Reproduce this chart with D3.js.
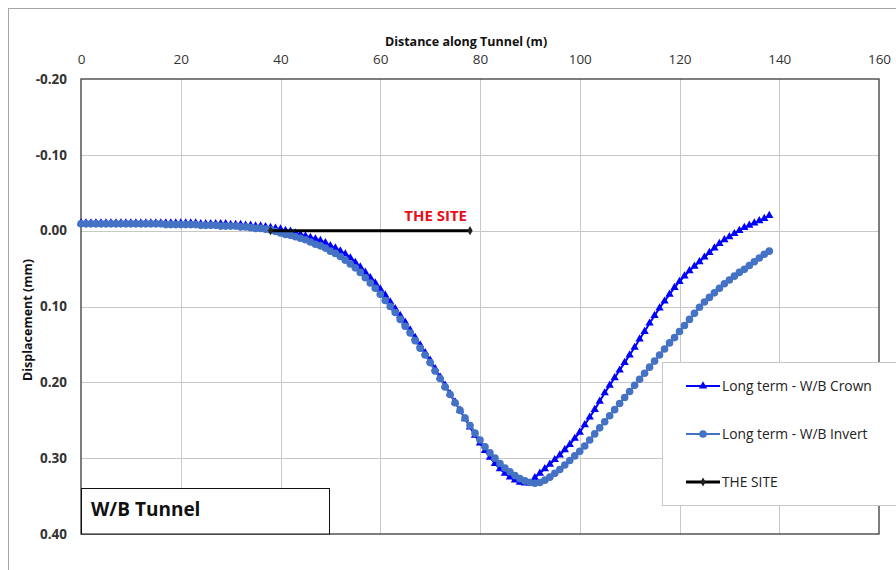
<!DOCTYPE html>
<html>
<head>
<meta charset="utf-8">
<script src="https://cdn.jsdelivr.net/npm/d3@7/dist/d3.min.js"></script>
<style>
  html, body { margin: 0; padding: 0; background: #fff; }
  svg { display: block; font-family: "Open Sans", Lato, "DejaVu Sans", sans-serif; }
</style>
</head>
<body>
<svg id="chart" width="896" height="570"></svg>
<script>
// Chainage along the tunnel (m)
const distance = [
  0, 1, 2, 3, 4, 5, 6, 7, 8, 9,
  10, 11, 12, 13, 14, 15, 16, 17, 18, 19,
  20, 21, 22, 23, 24, 25, 26, 27, 28, 29,
  30, 31, 32, 33, 34, 35, 36, 37, 38, 39,
  40, 41, 42, 43, 44, 45, 46, 47, 48, 49,
  50, 51, 52, 53, 54, 55, 56, 57, 58, 59,
  60, 61, 62, 63, 64, 65, 66, 67, 68, 69,
  70, 71, 72, 73, 74, 75, 76, 77, 78, 79,
  80, 81, 82, 83, 84, 85, 86, 87, 88, 89,
  90, 91, 92, 93, 94, 95, 96, 97, 98, 99,
  100, 101, 102, 103, 104, 105, 106, 107, 108, 109,
  110, 111, 112, 113, 114, 115, 116, 117, 118, 119,
  120, 121, 122, 123, 124, 125, 126, 127, 128, 129,
  130, 131, 132, 133, 134, 135, 136, 137, 138
];

// Long term displacement at the W/B crown (mm)
const crown = [
  -0.010, -0.010, -0.010, -0.010, -0.010, -0.010, -0.010, -0.010, -0.010, -0.010,
  -0.010, -0.010, -0.010, -0.010, -0.010, -0.010, -0.010, -0.010, -0.010, -0.010,
  -0.010, -0.010, -0.010, -0.010, -0.009, -0.009, -0.009, -0.009, -0.009, -0.009,
  -0.008, -0.008, -0.008, -0.007, -0.007, -0.006, -0.006, -0.005, -0.004, -0.003,
  -0.002, 0.000, 0.001, 0.003, 0.005, 0.007, 0.009, 0.011, 0.013, 0.016,
  0.020, 0.023, 0.027, 0.031, 0.036, 0.042, 0.048, 0.055, 0.062, 0.069,
  0.077, 0.085, 0.094, 0.103, 0.112, 0.121, 0.131, 0.141, 0.151, 0.161,
  0.171, 0.182, 0.193, 0.204, 0.215, 0.226, 0.237, 0.248, 0.259, 0.270,
  0.280, 0.290, 0.299, 0.307, 0.314, 0.320, 0.325, 0.329, 0.332, 0.333,
  0.333, 0.326, 0.320, 0.314, 0.308, 0.302, 0.296, 0.289, 0.282, 0.274,
  0.266, 0.256, 0.246, 0.236, 0.225, 0.214, 0.204, 0.194, 0.184, 0.174,
  0.164, 0.154, 0.143, 0.133, 0.122, 0.112, 0.102, 0.093, 0.084, 0.075,
  0.067, 0.060, 0.053, 0.047, 0.041, 0.035, 0.029, 0.023, 0.017, 0.012,
  0.008, 0.004, 0.000, -0.004, -0.007, -0.010, -0.013, -0.016, -0.020
];

// Long term displacement at the W/B invert (mm)
const invert = [
  -0.009, -0.009, -0.009, -0.009, -0.009, -0.009, -0.009, -0.009, -0.009, -0.009,
  -0.009, -0.009, -0.009, -0.009, -0.009, -0.009, -0.009, -0.008, -0.008, -0.008,
  -0.008, -0.008, -0.008, -0.008, -0.007, -0.007, -0.007, -0.007, -0.006, -0.006,
  -0.006, -0.006, -0.005, -0.005, -0.004, -0.003, -0.003, -0.002, -0.001, 0.001,
  0.003, 0.005, 0.006, 0.008, 0.010, 0.012, 0.015, 0.018, 0.020, 0.023,
  0.027, 0.030, 0.034, 0.039, 0.044, 0.049, 0.055, 0.062, 0.069, 0.076,
  0.084, 0.092, 0.100, 0.108, 0.117, 0.126, 0.135, 0.145, 0.155, 0.164,
  0.174, 0.185, 0.195, 0.206, 0.216, 0.227, 0.237, 0.247, 0.257, 0.267,
  0.276, 0.285, 0.293, 0.300, 0.307, 0.313, 0.318, 0.323, 0.327, 0.330,
  0.332, 0.333, 0.332, 0.329, 0.325, 0.320, 0.315, 0.309, 0.303, 0.297,
  0.291, 0.284, 0.276, 0.268, 0.260, 0.252, 0.244, 0.236, 0.228, 0.220,
  0.212, 0.204, 0.196, 0.188, 0.180, 0.172, 0.164, 0.156, 0.148, 0.141,
  0.133, 0.125, 0.117, 0.109, 0.101, 0.094, 0.088, 0.082, 0.076, 0.070,
  0.065, 0.060, 0.055, 0.051, 0.046, 0.041, 0.036, 0.031, 0.027
];

// Extent of the site along the tunnel
const siteDistance = [38, 78];
const siteValue = [0, 0];

// Axis ticks
const xTicks = [0, 20, 40, 60, 80, 100, 120, 140, 160];
const yTicks = [-0.2, -0.1, 0, 0.1, 0.2, 0.3, 0.4];

const seriesNames = ["Long term - W/B Crown", "Long term - W/B Invert", "THE SITE"];

const crownColor = "#0000ff";
const invertColor = "#4472c4";
const siteColor = "#000000";
const font = "'Open Sans', Lato, sans-serif";

const svg = d3.select("#chart");

// Chart frame
svg.append("rect")
  .attr("x", 8.5).attr("y", 8.5)
  .attr("width", 960).attr("height", 640)
  .attr("fill", "#fff").attr("stroke", "#a6a6a6").attr("stroke-width", 1);

const plot = { left: 81, right: 879, top: 79, bottom: 534 };

const x = d3.scaleLinear().domain([0, 160]).range([plot.left, plot.right]);
const y = d3.scaleLinear().domain([-0.2, 0.4]).range([plot.top, plot.bottom]);

// Gridlines
const grid = svg.append("g").attr("stroke", "#c8c8c8").attr("stroke-width", 1);
grid.selectAll("line.v").data(xTicks.slice(1, -1)).join("line")
  .attr("x1", d => Math.round(x(d)) + 0.5).attr("x2", d => Math.round(x(d)) + 0.5)
  .attr("y1", plot.top).attr("y2", plot.bottom);
grid.selectAll("line.h").data(yTicks.slice(1, -1)).join("line")
  .attr("y1", d => Math.round(y(d)) + 0.5).attr("y2", d => Math.round(y(d)) + 0.5)
  .attr("x1", plot.left).attr("x2", plot.right);

// Plot border
svg.append("rect")
  .attr("x", plot.left).attr("y", plot.top)
  .attr("width", plot.right - plot.left).attr("height", plot.bottom - plot.top)
  .attr("fill", "none").attr("stroke", "#3a3a3a").attr("stroke-width", 1.3);

// Axes
const xAxis = d3.axisTop(x).tickValues(xTicks).tickSize(0).tickPadding(15)
  .tickFormat(d => String(d));
svg.append("g").attr("transform", `translate(0,${plot.top})`).call(xAxis)
  .call(g => g.select(".domain").remove())
  .call(g => g.selectAll("text").attr("font-size", 13.5).attr("fill", "#333")
    .attr("font-family", font));

const yAxis = d3.axisLeft(y).tickValues(yTicks).tickSize(0).tickPadding(14)
  .tickFormat(d => d.toFixed(2));
svg.append("g").attr("transform", `translate(${plot.left},0)`).call(yAxis)
  .call(g => g.select(".domain").remove())
  .call(g => g.selectAll("text").attr("font-size", 13.5).attr("font-weight", "bold")
    .attr("fill", "#333").attr("font-family", font));

// Axis titles
svg.append("text")
  .attr("x", 466).attr("y", 46)
  .attr("text-anchor", "middle")
  .attr("font-size", 12.5).attr("font-weight", "bold").attr("fill", "#111")
  .text("Distance along Tunnel (m)");

svg.append("text")
  .attr("transform", "translate(32,320) rotate(-90)")
  .attr("text-anchor", "middle")
  .attr("font-size", 12.5).attr("font-weight", "bold").attr("fill", "#111")
  .text("Displacement (mm)");

// Series
const crownData = distance.map((d, i) => [d, crown[i]]);
const invertData = distance.map((d, i) => [d, invert[i]]);
const siteData = siteDistance.map((d, i) => [d, siteValue[i]]);

const line = d3.line().x(d => x(d[0])).y(d => y(d[1]));

const triangle = d3.symbol().type(d3.symbolTriangle).size(30);
const diamond = d3.symbol().type(d3.symbolDiamond).size(24);

// Crown
svg.append("path").datum(crownData)
  .attr("d", line).attr("fill", "none")
  .attr("stroke", crownColor).attr("stroke-width", 2);
svg.append("g").selectAll("path").data(crownData).join("path")
  .attr("d", triangle)
  .attr("transform", d => `translate(${x(d[0])},${y(d[1])})`)
  .attr("fill", crownColor);

// Invert
svg.append("path").datum(invertData)
  .attr("d", line).attr("fill", "none")
  .attr("stroke", invertColor).attr("stroke-width", 2);
svg.append("g").selectAll("circle").data(invertData).join("circle")
  .attr("cx", d => x(d[0])).attr("cy", d => y(d[1]))
  .attr("r", 3.8).attr("fill", invertColor);

// The site
svg.append("path").datum(siteData)
  .attr("d", line).attr("fill", "none")
  .attr("stroke", siteColor).attr("stroke-width", 3);
svg.append("g").selectAll("path").data(siteData).join("path")
  .attr("d", diamond)
  .attr("transform", d => `translate(${x(d[0])},${y(d[1])})`)
  .attr("fill", "#222");

svg.append("text")
  .attr("x", x(siteDistance[1]) - 3).attr("y", y(siteValue[1]) - 10)
  .attr("text-anchor", "end")
  .attr("font-size", 15).attr("font-weight", "bold").attr("fill", "#e8101a")
  .text("THE SITE");

// Tunnel label box
svg.append("rect")
  .attr("x", plot.left + 0.5).attr("y", 488.5)
  .attr("width", 248).attr("height", plot.bottom - 488.5)
  .attr("fill", "#fff").attr("stroke", "#111").attr("stroke-width", 1);
svg.append("text")
  .attr("x", 91).attr("y", 516)
  .attr("font-size", 19).attr("font-weight", "bold").attr("fill", "#111")
  .text("W/B Tunnel");

// Legend
const legend = svg.append("g");
legend.append("rect")
  .attr("x", 662.5).attr("y", 362.5)
  .attr("width", 260).attr("height", 143)
  .attr("fill", "#fff").attr("stroke", "#c8c8c8").attr("stroke-width", 1);

const legendRows = [
  { name: seriesNames[0], color: crownColor, width: 2, marker: "triangle", yPos: 386 },
  { name: seriesNames[1], color: invertColor, width: 2, marker: "circle", yPos: 434 },
  { name: seriesNames[2], color: siteColor, width: 3, marker: "diamond", yPos: 482 }
];

legendRows.forEach(r => {
  legend.append("line")
    .attr("x1", 686).attr("x2", 720).attr("y1", r.yPos).attr("y2", r.yPos)
    .attr("stroke", r.color).attr("stroke-width", r.width);
  if (r.marker === "triangle") {
    legend.append("path").attr("d", triangle)
      .attr("transform", `translate(703,${r.yPos})`).attr("fill", r.color);
  } else if (r.marker === "circle") {
    legend.append("circle").attr("cx", 703).attr("cy", r.yPos).attr("r", 3.8)
      .attr("fill", r.color);
  } else {
    legend.append("path").attr("d", diamond)
      .attr("transform", `translate(703,${r.yPos})`).attr("fill", "#222");
  }
  legend.append("text")
    .attr("x", 722).attr("y", r.yPos + 5)
    .attr("font-size", 13.8).attr("fill", "#222")
    .text(r.name);
});
</script>
</body>
</html>
